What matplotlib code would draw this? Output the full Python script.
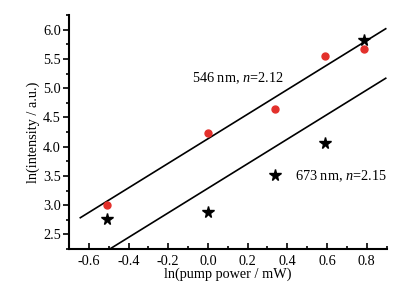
import numpy as np
import matplotlib.pyplot as plt
from matplotlib.ticker import MultipleLocator

# ── Data ──────────────────────────────────────────────────────────────────────
ln_power = [-0.51, 0.0, 0.336, 0.588, 0.788]
ln_i_546 = [3.01, 4.24, 4.65, 5.55, 5.675]
ln_i_673 = [2.76, 2.89, 3.52, 4.07, 5.82]

# fitted lines: slope, intercept, x-span as drawn
fit_546 = (2.10, 4.135, (-0.643, 0.896))
fit_673 = (2.10, 3.288, (-0.496, 0.896))

label_546 = "546 nm, $n$=2.12"
label_673 = "673 nm, $n$=2.15"

RED = "#e3302b"
FS = 10.3

plt.rcParams["font.family"] = ["Liberation Serif", "DejaVu Serif"]
plt.rcParams["mathtext.fontset"] = "custom"
plt.rcParams["mathtext.it"] = "Liberation Serif:italic"
plt.rcParams["mathtext.rm"] = "Liberation Serif"
plt.rcParams["axes.unicode_minus"] = False

fig = plt.figure(figsize=(4.14, 2.90), dpi=100)
ax = fig.add_axes([0.1667, 0.1414, 0.7669, 0.8066])

for slope, icpt, (x0, x1) in (fit_546, fit_673):
    xs = np.array([x0, x1])
    ax.plot(xs, icpt + slope * xs, color="black", lw=1.2)

ax.plot(ln_power, ln_i_546, "o", color=RED, ms=5, mec=RED, zorder=3)
ax.plot(ln_power, ln_i_673, "*", color="black", ms=8.5, zorder=3)

ax.text(-0.078, 5.175, label_546, fontsize=FS, va="center", ha="left")
ax.text(0.438, 3.49, label_673, fontsize=FS, va="center", ha="left")

ax.set_xlim(-0.7, 0.9)
ax.set_ylim(2.25, 6.25)
ax.xaxis.set_major_locator(MultipleLocator(0.2))
ax.xaxis.set_minor_locator(MultipleLocator(0.1))
ax.yaxis.set_major_locator(MultipleLocator(0.5))
ax.yaxis.set_minor_locator(MultipleLocator(0.25))

for side in ("top", "right"):
    ax.spines[side].set_visible(False)
for side in ("left", "bottom"):
    ax.spines[side].set_linewidth(1.5)

ax.tick_params(axis="x", which="both", direction="in", width=1.2, labelsize=FS, pad=4)
ax.tick_params(axis="x", which="major", length=4)
ax.tick_params(axis="x", which="minor", length=2.5)
ax.tick_params(axis="y", which="both", direction="out", width=1.2, labelsize=FS, pad=2)
ax.tick_params(axis="y", which="major", length=4)
ax.tick_params(axis="y", which="minor", length=2.5)

ax.set_xlabel("ln(pump power / mW)", fontsize=FS, labelpad=0)
ax.set_ylabel("ln(intensity / a.u.)", fontsize=FS, labelpad=2)

fig.savefig("out.png", dpi=100, facecolor="white")
